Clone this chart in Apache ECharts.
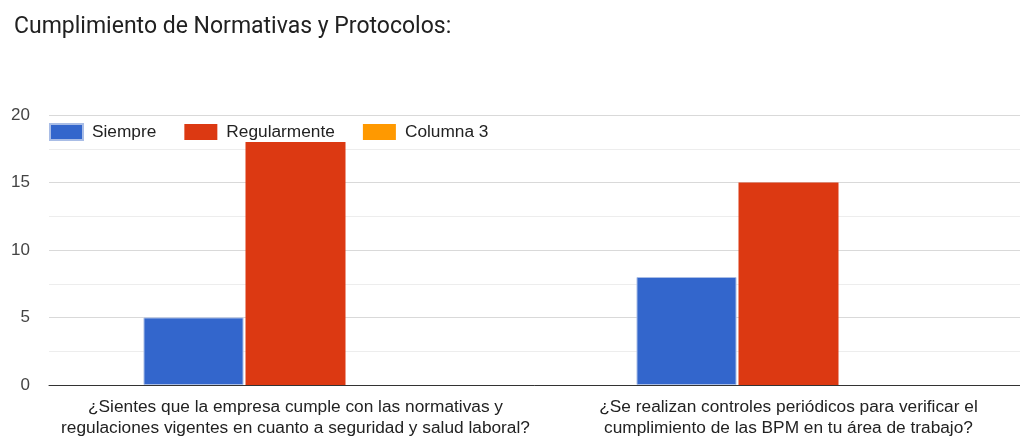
<!DOCTYPE html>
<html>
<head>
<meta charset="utf-8">
<script src="https://cdn.jsdelivr.net/npm/echarts@6/dist/echarts.min.js"></script>
<style>
  html, body { margin: 0; padding: 0; background: #fff; }
  #main { width: 1020px; height: 437px; }
</style>
</head>
<body>
<div id="main"></div>
<script>
// preguntas (eje x)
var categories = [
  "¿Sientes que la empresa cumple con las normativas y\nregulaciones vigentes en cuanto a seguridad y salud laboral?",
  "¿Se realizan controles periódicos para verificar el\ncumplimiento de las BPM en tu área de trabajo?"
];
var siempre = [5, 8];
var regularmente = [18, 15];
var columna3 = [0, 0];
var yTicks = [0, 5, 10, 15, 20];

var colors = ["#3366cc", "#dc3912", "#ff9900"];

var myChart = echarts.init(document.getElementById("main"));

var option = {
  color: colors,
  animation: false,
  title: {
    text: "Cumplimiento de Normativas y Protocolos:",
    left: 9,
    top: 11,
    textStyle: {
      fontFamily: "Roboto",
      fontSize: 23,
      fontWeight: "normal",
      color: "#212121"
    }
  },
  legend: {
    left: 44,
    top: 118,
    itemWidth: 33,
    itemHeight: 16,
    itemGap: 28,
    icon: "rect",
    textStyle: {
      fontFamily: "Liberation Sans",
      fontSize: 17.3,
      color: "#222",
      padding: [0, 0, 0, 4]
    },
    data: ["Siempre", "Regularmente", "Columna 3"]
  },
  grid: {
    left: 49,
    top: 115,
    width: 986,
    bottom: 52,
    outerBoundsMode: "none",
    containLabel: false
  },
  xAxis: {
    type: "category",
    data: categories,
    axisTick: { show: false },
    axisLine: { lineStyle: { color: "#333", width: 1 } },
    axisLabel: {
      interval: 0,
      margin: 12,
      fontFamily: "Liberation Sans",
      fontSize: 17.3,
      lineHeight: 21,
      color: "#222"
    }
  },
  yAxis: {
    type: "value",
    min: yTicks[0],
    max: yTicks[yTicks.length - 1],
    interval: 5,
    axisLine: { show: false },
    axisTick: { show: false },
    axisLabel: {
      margin: 19,
      fontFamily: "Liberation Sans",
      fontSize: 17,
      color: "#444"
    },
    splitLine: { lineStyle: { color: "#d9d9d9", width: 1 } },
    minorTick: { show: false, splitNumber: 2 },
    minorSplitLine: { show: true, lineStyle: { color: "#ededed", width: 1 } }
  },
  series: [
    {
      name: "Siempre",
      type: "bar",
      data: siempre,
      barWidth: 100,
      barGap: "2%",
      itemStyle: { borderColor: "#a9bde6", borderWidth: 1 }
    },
    {
      name: "Regularmente",
      type: "bar",
      barWidth: 100,
      data: regularmente
    },
    {
      name: "Columna 3",
      type: "bar",
      barWidth: 100,
      data: columna3
    }
  ]
};
myChart.setOption(option);
</script>
</body>
</html>
